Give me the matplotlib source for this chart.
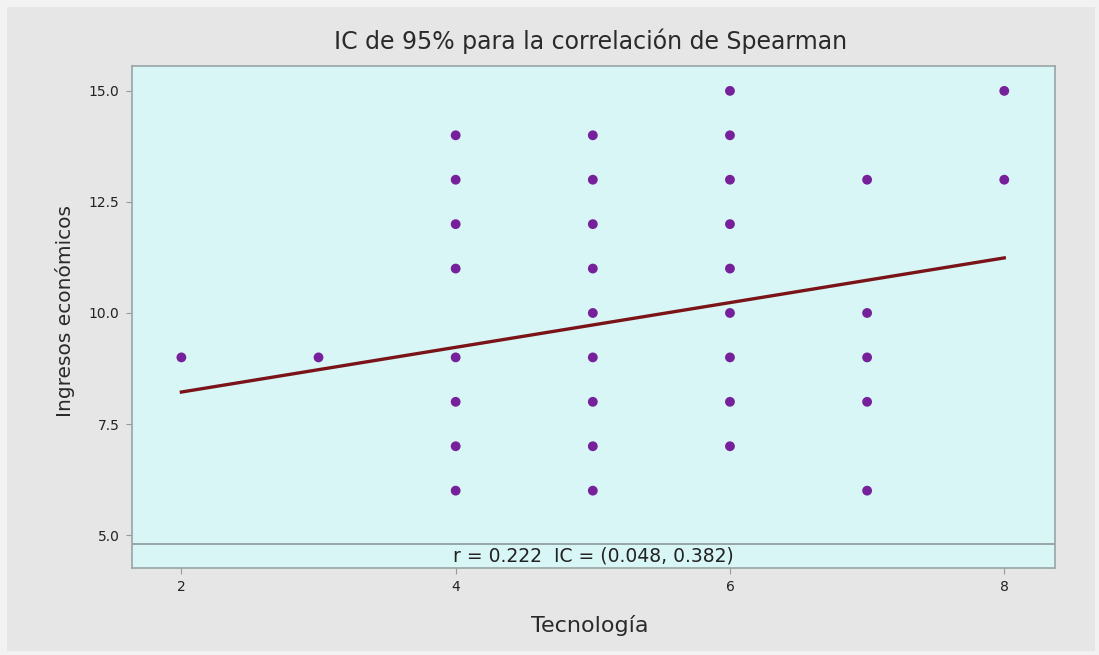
import matplotlib.pyplot as plt
from matplotlib.patches import Rectangle

# data
tecnologia = [2, 3,
              4, 4, 4, 4, 4, 4, 4, 4,
              5, 5, 5, 5, 5, 5, 5, 5, 5,
              6, 6, 6, 6, 6, 6, 6, 6, 6,
              7, 7, 7, 7, 7,
              8, 8]
ingresos = [9, 9,
            6, 7, 8, 9, 11, 12, 13, 14,
            6, 7, 8, 9, 10, 11, 12, 13, 14,
            7, 8, 9, 10, 11, 12, 13, 14, 15,
            6, 8, 9, 10, 13,
            13, 15]
fit_x = [2, 8]
fit_y = [8.22, 11.24]
x_ticks = [2, 4, 6, 8]
y_ticks = [5.0, 7.5, 10.0, 12.5, 15.0]
title = 'IC de 95% para la correlación de Spearman'
note = 'r = 0.222  IC = (0.048, 0.382)'

W, H = 1099, 655
fig = plt.figure(figsize=(W / 100, H / 100), dpi=100, facecolor='#f2f2f2')
fig.patches.append(Rectangle((7 / W, 4 / H), (W - 11) / W, (H - 11) / H,
                             transform=fig.transFigure, facecolor='#e6e6e6',
                             edgecolor='none', zorder=-10))

ax = fig.add_axes([132 / W, 1 - 567.5 / H, (1055 - 132) / W, (567.5 - 66) / H])
ax.set_zorder(1)
ax.set_facecolor('#d9f6f6')
for s in ax.spines.values():
    s.set_color('#9aa5a5')
    s.set_linewidth(1.2)

ax.scatter(tecnologia, ingresos, s=50, color='#76209c', zorder=3, edgecolors='none')
ax.plot(fit_x, fit_y, color='#7a1418', lw=2.4, zorder=2)

ax.set_xlim(1.64, 8.37)
ax.set_ylim(4.27, 15.56)
ax.set_xticks(x_ticks)
ax.set_xticklabels([str(v) for v in x_ticks])
ax.set_yticks(y_ticks)
ax.set_yticklabels(['%.1f' % v for v in y_ticks])
ax.tick_params(direction='out', length=4, color='#999999', labelsize=10,
               labelcolor='#222222', pad=5)

ax.axhline(4.80, color='#8a9999', lw=1.2, zorder=1)
ax.text(0.5 * (1.64 + 8.37), 4.53, note, ha='center', va='center',
        fontsize=13.5, color='#222222')

fig.text(591 / W, 1 - 41 / H, title, ha='center', va='center',
         fontsize=17, color='#2a2a2a')
fig.text(590 / W, 1 - 626 / H, 'Tecnología', ha='center', va='center',
         fontsize=16, color='#2a2a2a')
fig.text(65 / W, 1 - 311 / H, 'Ingresos económicos', ha='center', va='center',
         rotation=90, fontsize=14.5, color='#2a2a2a')

fig.savefig('out.png', dpi=100, facecolor=fig.get_facecolor())
